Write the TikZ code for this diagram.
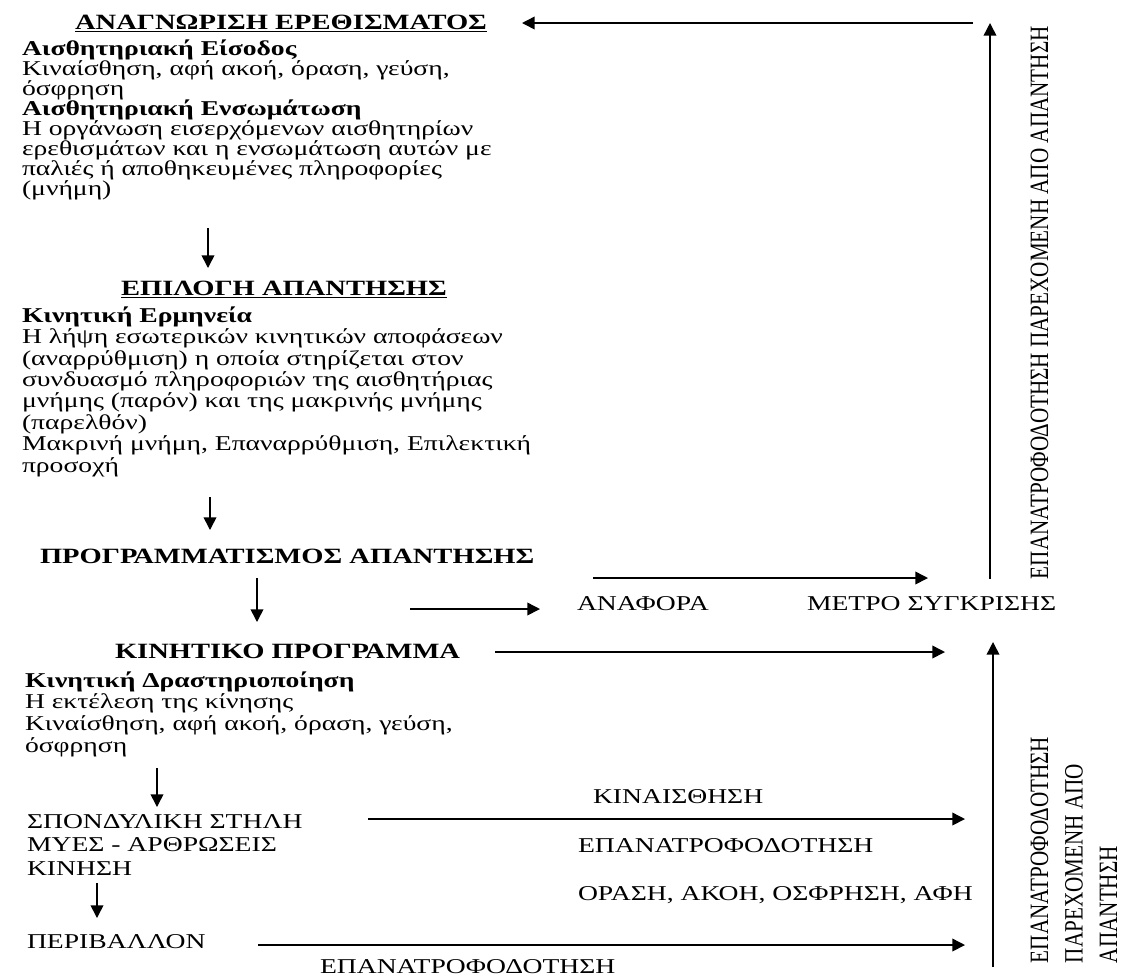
\documentclass[tikz,border=0pt]{standalone}
\usepackage{fontspec}
\setmainfont{Liberation Serif}[FakeStretch=1.31]
\newfontfamily\narrowfont{Liberation Serif}[FakeStretch=0.8]
\usetikzlibrary{arrows.meta}
\lineskiplimit=-30pt

\begin{document}
\begin{tikzpicture}[
    x=0.025cm, y=-0.025cm,
    txt/.style={inner sep=0pt, outer sep=0pt, anchor=base west, align=left, font=\fontsize{15}{14.2}\selectfont},
    heading/.style={txt, font=\fontsize{15.5}{14.2}\selectfont\bfseries},
    vlabel/.style={inner sep=0pt, outer sep=0pt, anchor=base west, rotate=90, align=left, font=\narrowfont\fontsize{18.8}{24.5}\selectfont},
    flow/.style={line width=1.1pt, -{Triangle[length=9pt, width=9pt]}},
]
\useasboundingbox (0,0) rectangle (1148,976);

% Left column: stages (multi-line blocks sit on their last baseline)
\node[heading, anchor=base] (recog) at (281,29) {\underline{ΑΝΑΓΝΩΡΙΣΗ ΕΡΕΘΙΣΜΑΤΟΣ}};
\node[txt] (sens) at (22,195) {\textbf{Αισθητηριακή Είσοδος}\\
Κιναίσθηση, αφή ακοή, όραση, γεύση,\\
όσφρηση\\
\textbf{Αισθητηριακή Ενσωμάτωση}\\
Η οργάνωση εισερχόμενων αισθητηρίων\\
ερεθισμάτων και η ενσωμάτωση αυτών με\\
παλιές ή αποθηκευμένες πληροφορίες\\
(μνήμη)};

\node[heading, anchor=base] (select) at (284,295) {\underline{ΕΠΙΛΟΓΗ ΑΠΑΝΤΗΣΗΣ}};
\node[txt, font=\fontsize{15}{15.2}\selectfont] (interp) at (22,472) {\textbf{Κινητική Ερμηνεία}\\
Η λήψη εσωτερικών κινητικών αποφάσεων\\
(αναρρύθμιση) η οποία στηρίζεται στον\\
συνδυασμό πληροφοριών της αισθητήριας\\
μνήμης (παρόν) και της μακρινής μνήμης\\
(παρελθόν)\\
Μακρινή μνήμη, Επαναρρύθμιση, Επιλεκτική\\
προσοχή};

\node[heading] (plan) at (40,563) {ΠΡΟΓΡΑΜΜΑΤΙΣΜΟΣ ΑΠΑΝΤΗΣΗΣ};
\node[heading] (motor) at (115,658) {ΚΙΝΗΤΙΚΟ ΠΡΟΓΡΑΜΜΑ};
\node[txt, font=\fontsize{15}{15.4}\selectfont] (exec) at (25,752) {\textbf{Κινητική Δραστηριοποίηση}\\
Η εκτέλεση της κίνησης\\
Κιναίσθηση, αφή ακοή, όραση, γεύση,\\
όσφρηση};

\node[txt, font=\fontsize{15}{16.7}\selectfont] (spine) at (27,875) {ΣΠΟΝΔΥΛΙΚΗ ΣΤΗΛΗ\\
ΜΥΕΣ - ΑΡΘΡΩΣΕΙΣ\\
ΚΙΝΗΣΗ};
\node[txt] (env) at (27,948) {ΠΕΡΙΒΑΛΛΟΝ};

% Right side labels
\node[txt] (ref) at (577,610) {ΑΝΑΦΟΡΑ};
\node[txt] (comp) at (807,610) {ΜΕΤΡΟ ΣΥΓΚΡΙΣΗΣ};
\node[txt] (kin) at (593,803) {ΚΙΝΑΙΣΘΗΣΗ};
\node[txt] (fb) at (578,852) {ΕΠΑΝΑΤΡΟΦΟΔΟΤΗΣΗ};
\node[txt] (senses) at (578,900) {ΟΡΑΣΗ, ΑΚΟΗ, ΟΣΦΡΗΣΗ, ΑΦΗ};
\node[txt] (envfb) at (320,973) {ΕΠΑΝΑΤΡΟΦΟΔΟΤΗΣΗ};

\node[vlabel] (upfb) at (1048,579) {ΕΠΑΝΑΤΡΟΦΟΔΟΤΗΣΗ ΠΑΡΕΧΟΜΕΝΗ ΑΠΟ ΑΠΑΝΤΗΣΗ};
\node[vlabel] (lowfb) at (1117,963) {ΕΠΑΝΑΤΡΟΦΟΔΟΤΗΣΗ\\
ΠΑΡΕΧΟΜΕΝΗ ΑΠΟ\\
ΑΠΑΝΤΗΣΗ};

% Arrow end points
\coordinate (a1s) at (208,228); \coordinate (a1e) at (208,268);
\coordinate (a2s) at (210,497); \coordinate (a2e) at (210,530);
\coordinate (a3s) at (257,578); \coordinate (a3e) at (257,622);
\coordinate (a4s) at (157,768); \coordinate (a4e) at (157,807);
\coordinate (a5s) at (97,883);  \coordinate (a5e) at (97,918);
\coordinate (topS) at (973,23); \coordinate (topE) at (522,23);
\coordinate (planS) at (410,609); \coordinate (planE) at (540,609);
\coordinate (refS) at (593,578); \coordinate (refE) at (928,578);
\coordinate (motS) at (495,652); \coordinate (motE) at (945,652);
\coordinate (spS) at (368,819); \coordinate (spE) at (965,819);
\coordinate (envS) at (258,945); \coordinate (envE) at (965,945);
\coordinate (upS) at (990,579); \coordinate (upE) at (990,23);
\coordinate (lowS) at (993,967); \coordinate (lowE) at (993,642);

% Downward flow
\draw[flow] (a1s) -- (a1e);
\draw[flow] (a2s) -- (a2e);
\draw[flow] (a3s) -- (a3e);
\draw[flow] (a4s) -- (a4e);
\draw[flow] (a5s) -- (a5e);

% Horizontal and feedback arrows
\draw[flow] (topS) -- (topE);
\draw[flow] (planS) -- (planE);
\draw[flow] (refS) -- (refE);
\draw[flow] (motS) -- (motE);
\draw[flow] (spS) -- (spE);
\draw[flow] (envS) -- (envE);
\draw[flow] (upS) -- (upE);
\draw[flow] (lowS) -- (lowE);

\end{tikzpicture}
\end{document}
